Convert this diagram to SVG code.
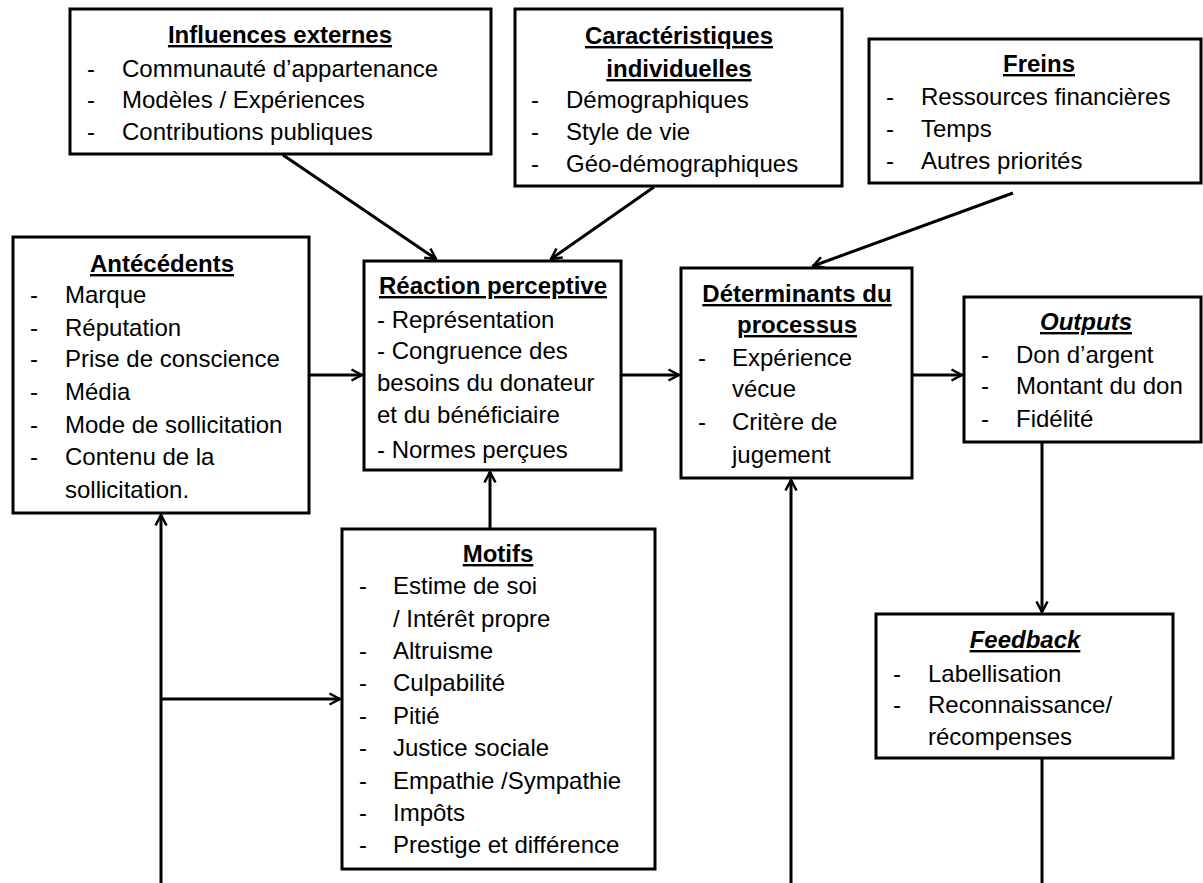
<svg xmlns="http://www.w3.org/2000/svg" width="1203" height="883" viewBox="0 0 1203 883">
<style>
.box{fill:#fff;stroke:#000;stroke-width:3}
text{font-family:"Liberation Sans",Arial,sans-serif;font-size:24px;fill:#000}
.t{font-weight:bold;text-decoration:underline;text-anchor:middle}
.ti{font-weight:bold;font-style:italic;text-decoration:underline;text-anchor:middle}
.c{fill:none;stroke:#000;stroke-width:3}
</style>
<defs>
<marker id="ah" viewBox="0 0 14 14" refX="12.5" refY="7" markerWidth="14" markerHeight="14" markerUnits="userSpaceOnUse" orient="auto">
<path d="M2,1.5 L12.5,7 L2,12.5" fill="none" stroke="#000" stroke-width="2.5"/>
</marker>
</defs>
<rect width="1203" height="883" fill="#fff"/>
<g id="connectors">
<line class="c" x1="283" y1="155" x2="436" y2="259" marker-end="url(#ah)"/>
<line class="c" x1="654" y1="187" x2="551" y2="259" marker-end="url(#ah)"/>
<line class="c" x1="1013" y1="193" x2="813" y2="266" marker-end="url(#ah)"/>
<line class="c" x1="309" y1="375" x2="362" y2="375" marker-end="url(#ah)"/>
<line class="c" x1="621" y1="375" x2="679" y2="375" marker-end="url(#ah)"/>
<line class="c" x1="912" y1="375" x2="962" y2="375" marker-end="url(#ah)"/>
<line class="c" x1="490" y1="528" x2="490" y2="472" marker-end="url(#ah)"/>
<line class="c" x1="161" y1="885" x2="161" y2="515" marker-end="url(#ah)"/>
<line class="c" x1="161" y1="699" x2="340" y2="699" marker-end="url(#ah)"/>
<line class="c" x1="791" y1="885" x2="791" y2="480" marker-end="url(#ah)"/>
<line class="c" x1="1042" y1="442" x2="1042" y2="612" marker-end="url(#ah)"/>
<line class="c" x1="1042" y1="758" x2="1042" y2="885"/>
</g>
<g id="influences">
<rect class="box" x="70" y="9" width="421" height="145"/>
<text class="t" x="280" y="43">Influences externes</text>
<text x="87" y="77">-</text><text x="122" y="77">Communauté d’appartenance</text>
<text x="87" y="108">-</text><text x="122" y="108">Modèles / Expériences</text>
<text x="87" y="140">-</text><text x="122" y="140">Contributions publiques</text>
</g>
<g id="caracteristiques">
<rect class="box" x="515" y="9" width="327" height="177"/>
<text class="t" x="679" y="44">Caractéristiques</text>
<text class="t" x="679" y="77">individuelles</text>
<text x="531" y="108">-</text><text x="566" y="108">Démographiques</text>
<text x="531" y="140">-</text><text x="566" y="140">Style de vie</text>
<text x="531" y="172">-</text><text x="566" y="172">Géo-démographiques</text>
</g>
<g id="freins">
<rect class="box" x="869" y="39" width="332" height="144"/>
<text class="t" x="1039" y="72">Freins</text>
<text x="886" y="105">-</text><text x="921" y="105">Ressources financières</text>
<text x="886" y="137">-</text><text x="921" y="137">Temps</text>
<text x="886" y="169">-</text><text x="921" y="169">Autres priorités</text>
</g>
<g id="antecedents">
<rect class="box" x="13" y="237" width="296" height="276"/>
<text class="t" x="162" y="272">Antécédents</text>
<text x="30" y="303">-</text><text x="65" y="303">Marque</text>
<text x="30" y="336">-</text><text x="65" y="336">Réputation</text>
<text x="30" y="367">-</text><text x="65" y="367">Prise de conscience</text>
<text x="30" y="400">-</text><text x="65" y="400">Média</text>
<text x="30" y="433">-</text><text x="65" y="433">Mode de sollicitation</text>
<text x="30" y="465">-</text><text x="65" y="465">Contenu de la</text>
<text x="65" y="498">sollicitation.</text>
</g>
<g id="reaction">
<rect class="box" x="364" y="261" width="257" height="209"/>
<text class="t" x="493" y="294">Réaction perceptive</text>
<text x="377" y="328">- Représentation</text>
<text x="377" y="359">- Congruence des</text>
<text x="377" y="391">besoins du donateur</text>
<text x="377" y="423">et du bénéficiaire</text>
<text x="377" y="458">- Normes perçues</text>
</g>
<g id="determinants">
<rect class="box" x="681" y="268" width="231" height="210"/>
<text class="t" x="797" y="302">Déterminants du</text>
<text class="t" x="797" y="333">processus</text>
<text x="698" y="366">-</text><text x="732" y="366">Expérience</text>
<text x="732" y="397">vécue</text>
<text x="698" y="430">-</text><text x="732" y="430">Critère de</text>
<text x="732" y="463">jugement</text>
</g>
<g id="outputs">
<rect class="box" x="964" y="297" width="237" height="145"/>
<text class="ti" x="1086" y="330">Outputs</text>
<text x="981" y="363">-</text><text x="1016" y="363">Don d’argent</text>
<text x="981" y="394">-</text><text x="1016" y="394">Montant du don</text>
<text x="981" y="427">-</text><text x="1016" y="427">Fidélité</text>
</g>
<g id="motifs">
<rect class="box" x="342" y="529" width="313" height="340"/>
<text class="t" x="498" y="562">Motifs</text>
<text x="359" y="594">-</text><text x="393" y="594">Estime de soi</text>
<text x="393" y="627">/ Intérêt propre</text>
<text x="359" y="659">-</text><text x="393" y="659">Altruisme</text>
<text x="359" y="691">-</text><text x="393" y="691">Culpabilité</text>
<text x="359" y="724">-</text><text x="393" y="724">Pitié</text>
<text x="359" y="756">-</text><text x="393" y="756">Justice sociale</text>
<text x="359" y="789">-</text><text x="393" y="789">Empathie /Sympathie</text>
<text x="359" y="821">-</text><text x="393" y="821">Impôts</text>
<text x="359" y="853">-</text><text x="393" y="853">Prestige et différence</text>
</g>
<g id="feedback">
<rect class="box" x="876" y="614" width="297" height="144"/>
<text class="ti" x="1025" y="648">Feedback</text>
<text x="893" y="682">-</text><text x="928" y="682">Labellisation</text>
<text x="893" y="713">-</text><text x="928" y="713">Reconnaissance/</text>
<text x="928" y="745">récompenses</text>
</g>
</svg>
